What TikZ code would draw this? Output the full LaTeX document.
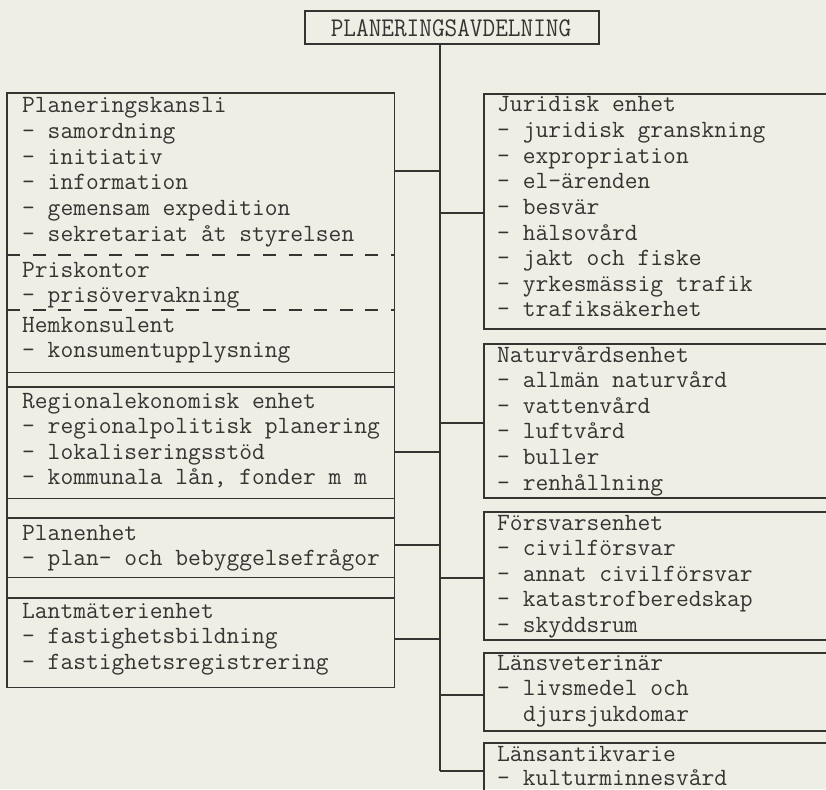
\documentclass[tikz,border=0pt]{standalone}
\usepackage{fontspec}
\usepackage{graphicx}
\definecolor{paper}{RGB}{238,238,228}
\definecolor{ink}{RGB}{52,52,50}
\tikzset{
  rule/.style={draw=ink, line width=1.6pt},
  tearline/.style={draw=ink, line width=1.6pt, dash pattern=on 13pt off 12.6pt},
  typed/.style={anchor=base west, inner sep=0pt, text=ink,
    font=\ttfamily\fontsize{24.8}{25.6}\selectfont},
  headline/.style={anchor=base, inner sep=0pt, text=ink,
    font=\ttfamily\fontsize{27}{28}\selectfont},
  unitbox/.style={rectangle, inner sep=0pt, anchor=north west},
}
% one typed line per node, 25.6pt line pitch
\newcommand\typelines[4]{%
  \foreach \t [count=\i from 0] in {#4} {%
    \node[typed] (#1-\i) at (#2,{#3+25.6*\i}) {\t};}}
\begin{document}
\begin{tikzpicture}[x=1pt,y=-1pt]
\clip (0,0) rectangle (826,789);
\fill[paper] (0,0) rectangle (826,789);

% head box
\node[unitbox, rule, minimum width=294pt, minimum height=33pt] (top) at (304,10) {};
\node[headline] (toptext) at (451,37) {\scalebox{0.91}[1]{PLANERINGSAVDELNING}};

% left column: one frame, split into sections
\node[unitbox, minimum width=387pt, minimum height=279pt] (ps) at (7,93) {};
\node[unitbox, minimum width=387pt, minimum height=111pt] (re) at (7,387) {};
\node[unitbox, minimum width=387pt, minimum height=59pt] (pl) at (7,518) {};
\node[unitbox, minimum width=387pt, minimum height=89pt] (lm) at (7,598) {};
\draw[rule] (ps.north west) rectangle (lm.south east);
\foreach \n in {ps,re,pl} \draw[rule] (\n.south west) -- (\n.south east);
\foreach \n in {re,pl,lm} \draw[rule] (\n.north west) -- (\n.north east);
\draw[tearline] (ps.west |- 0,255) -- (ps.east |- 0,255);
\draw[tearline] (ps.west |- 0,310) -- (ps.east |- 0,310);

% right column boxes
\node[unitbox, rule, minimum width=360pt, minimum height=235pt] (ju) at (483,93) {};
\node[unitbox, rule, minimum width=360pt, minimum height=154pt] (na) at (483,343) {};
\node[unitbox, rule, minimum width=360pt, minimum height=128pt] (fo) at (483,511) {};
\node[unitbox, rule, minimum width=360pt, minimum height=78pt] (lv) at (483,652) {};
\node[unitbox, rule, minimum width=360pt, minimum height=70pt] (la) at (483,742) {};

% connectors
\coordinate (trunkend) at (440,771);
\draw[rule] (top.south -| trunkend) -- (trunkend);
\foreach \n/\y in {ps/171, re/452, pl/545, lm/639}
  \draw[rule] (\n.east |- 0,\y) -- (trunkend |- 0,\y);
\foreach \n/\y in {ju/213, na/423, fo/578, lv/695}
  \draw[rule] (trunkend |- 0,\y) -- (\n.west |- 0,\y);
\draw[rule] (trunkend) -- (la.west |- trunkend);

% left texts
\typelines{pk}{22}{113}{Planeringskansli,- samordning,- initiativ,- information,- gemensam expedition,- sekretariat åt styrelsen}
\typelines{pr}{22}{277}{Priskontor,- prisövervakning}
\typelines{hk}{22}{332}{Hemkonsulent,- konsumentupplysning}
\typelines{rg}{22}{408}{Regionalekonomisk enhet,- regionalpolitisk planering,- lokaliseringsstöd,{- kommunala lån, fonder m m}}
\typelines{pe}{22}{540}{Planenhet,- plan- och bebyggelsefrågor}
\typelines{lt}{22}{618}{Lantmäterienhet,- fastighetsbildning,- fastighetsregistrering}

% right texts
\typelines{jt}{497}{112}{Juridisk enhet,- juridisk granskning,- expropriation,- el-ärenden,- besvär,- hälsovård,- jakt och fiske,- yrkesmässig trafik,- trafiksäkerhet}
\typelines{nt}{497}{362}{Naturvårdsenhet,- allmän naturvård,- vattenvård,- luftvård,- buller,- renhållning}
\typelines{ft}{497}{530}{Försvarsenhet,- civilförsvar,- annat civilförsvar,- katastrofberedskap,- skyddsrum}
\typelines{vt}{497}{670}{Länsveterinär,- livsmedel och}
\node[typed] (vt-2) at (523,721.2) {djursjukdomar};
\typelines{at}{497}{761}{Länsantikvarie}
\node[typed] (at-1) at (497,785) {- kulturminnesvård};
\end{tikzpicture}
\end{document}
